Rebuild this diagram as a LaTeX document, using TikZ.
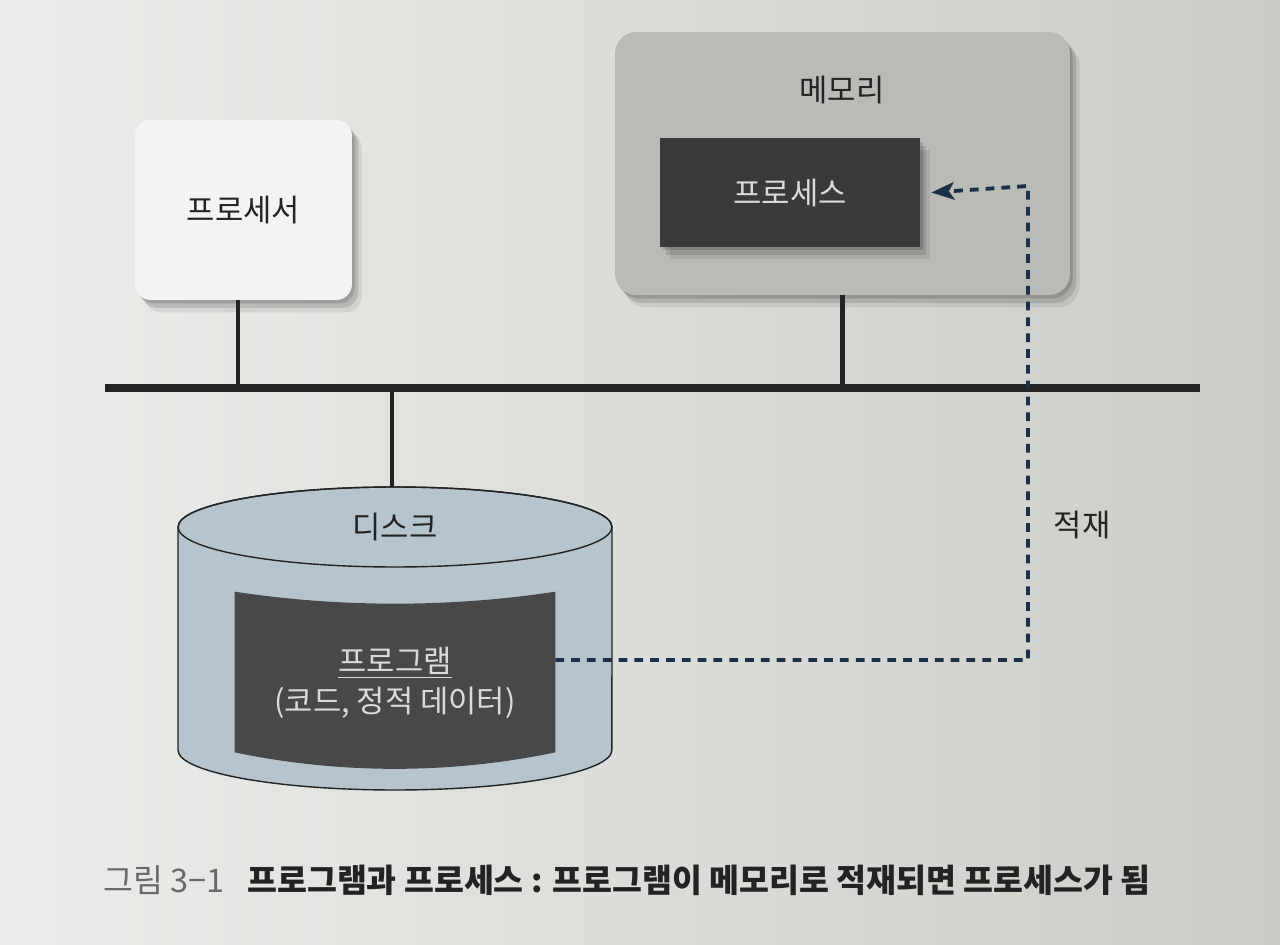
\documentclass[tikz,border=0pt]{standalone}
\usepackage{fontspec}
\setmainfont{Noto Sans CJK KR}
\usetikzlibrary{shadows,arrows.meta}
\definecolor{pagel}{RGB}{236,236,234}
\definecolor{pager}{RGB}{204,204,199}
\definecolor{procfill}{RGB}{243,243,243}
\definecolor{memfill}{RGB}{186,186,182}
\definecolor{procdark}{RGB}{58,58,58}
\definecolor{diskfill}{RGB}{182,197,205}
\definecolor{progfill}{RGB}{72,72,72}
\definecolor{lighttext}{RGB}{218,218,218}
\definecolor{ink}{RGB}{35,35,35}
\definecolor{navy}{RGB}{28,48,72}
\definecolor{capgray}{RGB}{105,105,105}
\begin{document}
\begin{tikzpicture}[x=0.02cm,y=0.02cm,
  txt/.style={font=\fontsize{17.5}{21}\selectfont, text=ink},
  stem/.style={draw=ink, line width=2.4pt},
  busline/.style={draw=ink, line width=4.2pt},
  load/.style={draw=navy, line width=2.2pt, dash pattern=on 5pt off 4pt,
    -{Stealth[length=13pt,width=10pt,inset=3pt]}},
  shade/.style={
    drop shadow={shadow xshift=1.5pt, shadow yshift=-2pt, opacity=.14, fill=black},
    drop shadow={shadow xshift=3.5pt, shadow yshift=-4.5pt, opacity=.12, fill=black},
    drop shadow={shadow xshift=5.5pt, shadow yshift=-7pt, opacity=.08, fill=black}}]
\useasboundingbox (0,0) rectangle (1280,944);
\fill[left color=pagel, right color=pager] (0,0) rectangle (1280,944);

% processor
\node[shade, rounded corners=9pt, fill=procfill, minimum width=4.34cm, minimum height=3.6cm, txt] (cpu) at (243.5,734) {프로세서};
% memory
\node[shade, rounded corners=12pt, fill=memfill, minimum width=9.1cm, minimum height=5.26cm] (mem) at (842.5,780.5) {};
\node[txt] (memlbl) at (842,854) {메모리};
\node[shade, fill=procdark, minimum width=5.2cm, minimum height=2.18cm, txt, text=lighttext] (ps) at (790,751.5) {프로세스};

% bus
\coordinate (busL) at (105,556);
\coordinate (busR) at (1200,556);
\draw[busline] (busL) -- (busR);
\draw[stem] ([xshift=-0.11cm]cpu.south) -- ([xshift=-0.11cm]cpu.south |- busL);
\draw[stem] (mem.south) -- (mem.south |- busL);

% disk
\filldraw[fill=diskfill, draw=ink, line width=0.8pt]
  (178,417) -- (178,194) arc[start angle=180, end angle=360, x radius=4.34cm, y radius=0.8cm]
  -- (612,417) arc[start angle=0, end angle=180, x radius=4.34cm, y radius=0.8cm] -- cycle;
\draw[draw=ink, line width=0.8pt] (395,417) ellipse [x radius=4.34cm, y radius=0.8cm];
\node[txt] (disklbl) at (395,417) {디스크};
\coordinate (disktop) at (392,457);
\draw[stem] (disktop |- busL) -- (disktop);

% program band
\node[minimum width=6.4cm, minimum height=3.2cm, inner sep=0pt] (prog) at (395,272) {};
\fill[progfill] (prog.north west) .. controls +(105,-16) and +(-105,-16) .. (prog.north east)
  -- (prog.south east) .. controls +(-105,-22) and +(105,-22) .. (prog.south west) -- cycle;
\node[txt, text=lighttext] (progt) at (395,281) {\underline{프로그램}};
\node[txt, text=lighttext] (progd) at (395,241) {(코드, 정적 데이터)};

% load connector
\coordinate (bend) at (1028,758);
\draw[load] ([yshift=0.24cm]prog.east) -| (bend) -- ([xshift=0.22cm]ps.east);
\node[txt] (jeokjae) at (1082,419) {적재};

% caption
\node[anchor=west, font=\fontsize{18.5}{22}\selectfont, text=ink, inner sep=0pt] (cap) at (103,64)
  {\textcolor{capgray}{그림 3−1}\hspace{0.7em}\textbf{프로그램과 프로세스 : 프로그램이 메모리로 적재되면 프로세스가 됨}};
\end{tikzpicture}
\end{document}
